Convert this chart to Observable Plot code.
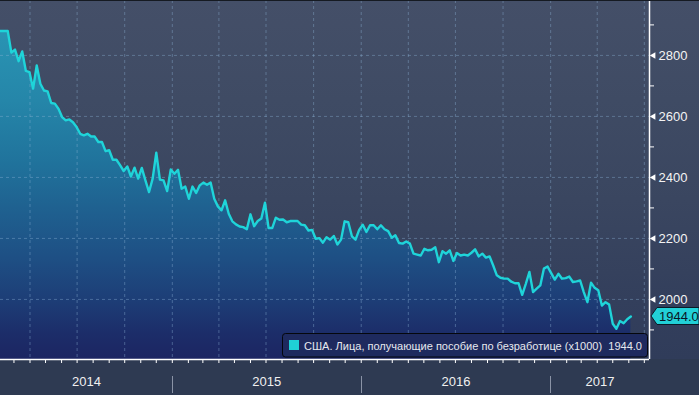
<!DOCTYPE html>
<html><head><meta charset="utf-8">
<script src="https://cdn.jsdelivr.net/npm/d3@7"></script>
<script src="https://cdn.jsdelivr.net/npm/@observablehq/plot@0.6"></script>
<style>html,body{margin:0;padding:0;background:#2e3a52;overflow:hidden}</style>
</head><body><div id="chart"></div>
<script>
// Weekly continuing jobless claims (thousands)
const startDate = "2014-02-03";
const values = [
  2880,2880,2880,2809,2819,2781,2813,2749,2745,2691,
  2767,2707,2685,2682,2644,2642,2625,2598,2587,2590,
  2581,2565,2543,2538,2543,2534,2534,2516,2516,2486,
  2489,2458,2458,2440,2421,2436,2403,2432,2396,2431,
  2390,2352,2396,2481,2393,2390,2355,2426,
  2412,2425,2363,2370,2330,2370,2349,2374,2383,2376,
  2383,2330,2305,2292,2325,2281,2256,2246,2239,2237,
  2230,2279,2240,2257,2265,2317,2234,2234,2268,2261,
  2262,2253,2257,2257,2257,2245,2243,2226,2228,2199,
  2201,2186,2204,2196,2208,2180,2196,2256,
  2253,2207,2196,2228,2245,2221,2243,2243,2230,2243,
  2230,2224,2202,2210,2185,2183,2190,2183,2150,2147,
  2144,2166,2161,2163,2171,2122,2158,2150,2161,2126,
  2152,2144,2147,2144,2153,2164,2141,2150,2137,2141,
  2111,2079,2071,
  2068,2068,2058,2053,2053,2015,2051,2090,2024,2035,
  2046,2101,2108,2086,2065,2084,2068,2070,2075,2057,
  2059,2062,2024,1991,2055,2038,2030,1980,1991,1983,
  1920,1904,1929,1922,1935,1944
];
const yTicksMajor = [2000, 2200, 2400, 2600, 2800];
const yTicksMinor = [1900, 2100, 2300, 2500, 2700, 2900];
const yearLabels = ["2014", "2015", "2016", "2017"];
const legendLabel = "США. Лица, получающие пособие по безработице (x1000)";
const xDomain = [new Date("2014-02-03"), new Date("2017-07-11")];
const yDomain = [1803, 2980];

const t0 = new Date(startDate);
const data = values.map((v, i) => ({date: d3.utcDay.offset(t0, 7 * i), value: v}));
const last = data[data.length - 1];
const quarters = d3.utcMonth.every(3).range(xDomain[0], xDomain[1]);
const months = d3.utcMonth.every(1).range(xDomain[0], xDomain[1]);
const years = yearLabels.map(y => {
  const a = new Date(`${y}-01-01`), b = new Date(`${+y + 1}-01-01`);
  const lo = a < xDomain[0] ? xDomain[0] : a, hi = b > xDomain[1] ? xDomain[1] : b;
  return {label: y, start: a, mid: new Date((+lo + +hi) / 2)};
});

const FONT = "'Liberation Sans', Arial, sans-serif";
const gridStyle = {stroke: "#8fb4d8", strokeOpacity: 0.4, strokeDasharray: "3,3"};

const chart = Plot.plot({
  width: 699, height: 395,
  marginLeft: 0, marginRight: 50, marginTop: 0, marginBottom: 36,
  style: {
    background: "linear-gradient(to bottom, #444f68 0px, #3f4b64 100px, #3a4660 200px, #333f5c 300px, #303c5a 359px, #2e3a52 359px, #2e3a52 395px)",
    fontFamily: FONT, color: "white", overflow: "visible"
  },
  x: {type: "utc", domain: xDomain, axis: null},
  y: {domain: yDomain, axis: null},
  marks: [
    Plot.areaY(data, {x: "date", y1: yDomain[0], y2: "value", fill: "url(#areaGrad)"}),
    Plot.ruleX(quarters, gridStyle),
    Plot.ruleY(yTicksMajor, gridStyle),
    Plot.lineY(data, {x: "date", y: "value", stroke: "#1fd4d9", strokeWidth: 2.4}),
    Plot.ruleY([yDomain[0]], {stroke: "white", strokeWidth: 1.5}),
    Plot.ruleX([xDomain[1]], {stroke: "white", strokeWidth: 1.5}),
    Plot.axisX({ticks: months, tickSize: 4, tickFormat: () => "", stroke: "white", label: null}),
    Plot.axisY({anchor: "right", ticks: yTicksMinor, tickSize: 4, tickFormat: () => "", stroke: "white", label: null}),
    Plot.dot(yTicksMajor, {x: () => xDomain[1], y: d => d, symbol: "triangle", r: 2.4, rotate: -90, fill: "white", dx: 4}),
    Plot.text(yTicksMajor, {x: () => xDomain[1], y: d => d, text: d => String(d), dx: 9, textAnchor: "start", fill: "#f4f4f4", fontSize: 13}),
    Plot.text(years, {x: "mid", frameAnchor: "bottom", dy: 26, text: "label", fill: "#f0f0f0", fontSize: 13})
  ]
});
document.getElementById("chart").appendChild(chart);

const svg = d3.select(chart);
const defs = svg.insert("defs", ":first-child");
const ag = defs.append("linearGradient").attr("id", "areaGrad")
  .attr("gradientUnits", "userSpaceOnUse").attr("x1", 0).attr("x2", 0).attr("y1", 0).attr("y2", 359);
[[0, "#2b9ab8"], [0.28, "#2586a9"], [0.45, "#20739c"], [0.58, "#1f6190"], [0.72, "#1e4f84"],
 [0.84, "#1d3d76"], [0.93, "#1c2d69"], [1, "#1c2562"]]
  .forEach(([o, c]) => ag.append("stop").attr("offset", o).attr("stop-color", c));

const xs = chart.scale("x"), ys = chart.scale("y");

// top border line
svg.append("rect").attr("x", 0).attr("y", 0).attr("width", 699).attr("height", 1).attr("fill", "#151a22");

// year separators in bottom band
years.forEach(d => {
  if (d.start > xDomain[0]) {
    const x = Math.round(xs.apply(d.start)) + 0.5;
    svg.append("line").attr("x1", x).attr("x2", x).attr("y1", 376).attr("y2", 393)
      .attr("stroke", "#8a93a6").attr("stroke-width", 1);
  }
});

// legend box inside the plot
const lg = svg.append("g").attr("font-family", FONT).attr("text-anchor", "start");
lg.append("rect").attr("x", 282.5).attr("y", 333.5).attr("width", 365).attr("height", 23.5).attr("rx", 3)
  .attr("fill", "#1e2a5e").attr("stroke", "#05070c").attr("stroke-width", 1);
lg.append("rect").attr("x", 289).attr("y", 340).attr("width", 10).attr("height", 10).attr("fill", "#1fd0d6");
lg.append("text").attr("x", 304).attr("y", 350).attr("font-size", 11.5).attr("fill", "#e6e8ee")
  .attr("text-anchor", "start").attr("textLength", 338).attr("lengthAdjust", "spacingAndGlyphs")
  .style("white-space", "pre").text(legendLabel + "  " + last.value.toFixed(1));

// last value tag on the right axis
const yv = ys.apply(last.value);
const tag = svg.append("g").attr("text-anchor", "start");
tag.append("path")
  .attr("d", `M651,${yv} L657,${yv - 8.5} L699,${yv - 8.5} L699,${yv + 8.5} L657,${yv + 8.5} Z`)
  .attr("fill", "#22d0d7").attr("stroke", "#0b1a28").attr("stroke-width", 1);
tag.append("text").attr("x", 659).attr("y", yv + 4.8).attr("font-size", 13).attr("font-family", FONT)
  .attr("text-anchor", "start").attr("fill", "#0a1626").text(last.value.toFixed(1));
</script>
</body></html>
